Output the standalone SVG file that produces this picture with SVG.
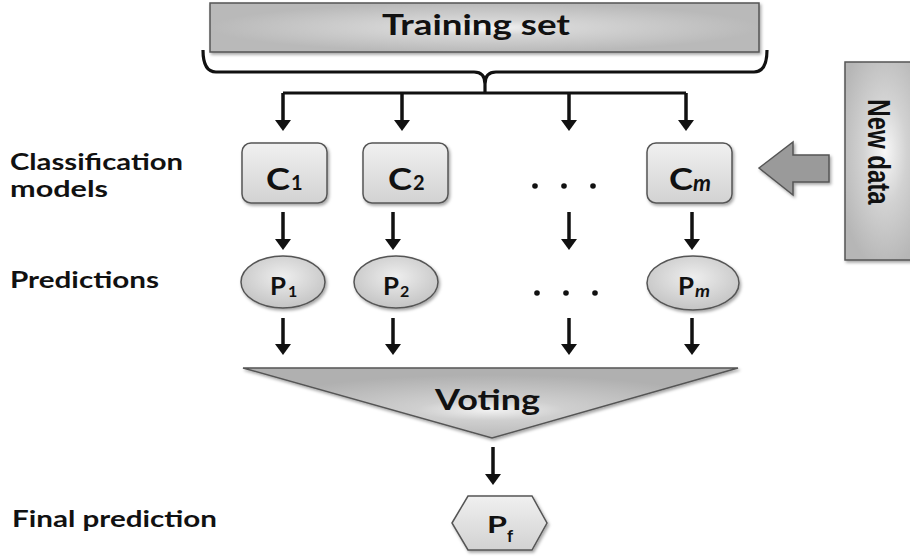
<svg xmlns="http://www.w3.org/2000/svg" width="910" height="557" viewBox="0 0 910 557">
<style>
  .lbl { font-family: Lato, "Open Sans", "Liberation Sans", sans-serif; font-weight: bold; fill: #111; }
  .conn { fill: none; stroke: #111; stroke-width: 3.2; }
  .arr { fill: none; stroke: #111; stroke-width: 3.5; marker-end: url(#ah); }
  .box { stroke: #555; stroke-width: 1.5; }
  .dot { fill: #111; }
</style>
<defs>
  <marker id="ah" markerUnits="userSpaceOnUse" markerWidth="11" markerHeight="16" viewBox="0 0 11 16" refX="3" refY="8" orient="auto">
    <path d="M0,0 L11,8 L0,16 z" fill="#111"/>
  </marker>
  <filter id="sh" x="-10%" y="-10%" width="130%" height="140%">
    <feDropShadow dx="1.5" dy="2" stdDeviation="1.5" flood-color="#000" flood-opacity="0.35"/>
  </filter>
  <radialGradient id="glowBig" cx="0.5" cy="0.5" r="0.5">
    <stop offset="0" stop-color="#f7f7f7"/>
    <stop offset="0.3" stop-color="#d6d6d6"/>
    <stop offset="1" stop-color="#b9b9b9"/>
  </radialGradient>
  <radialGradient id="glowTall" cx="0.5" cy="0.45" r="0.6">
    <stop offset="0" stop-color="#f7f7f7"/>
    <stop offset="0.45" stop-color="#d2d2d2"/>
    <stop offset="1" stop-color="#b6b6b6"/>
  </radialGradient>
  <radialGradient id="glowTri" cx="0.5" cy="0.6" r="0.5">
    <stop offset="0" stop-color="#f2f2f2"/>
    <stop offset="0.3" stop-color="#cfcfcf"/>
    <stop offset="1" stop-color="#b0b0b0"/>
  </radialGradient>
  <linearGradient id="cFill" x1="0" y1="0" x2="0" y2="1">
    <stop offset="0" stop-color="#f0f0f0"/>
    <stop offset="1" stop-color="#d2d2d2"/>
  </linearGradient>
  <radialGradient id="pFill" cx="0.5" cy="0.4" r="0.6">
    <stop offset="0" stop-color="#eeeeee"/>
    <stop offset="1" stop-color="#c4c4c4"/>
  </radialGradient>
</defs>
<rect width="910" height="557" fill="#fff"/>

<!-- connectors -->
<g id="connectors">
  <path class="conn" d="M203,50 Q203,72 216,72 L474,72 Q485,72 485,84 L485,93 M485,84 Q485,72 496,72 L754,72 Q767,72 767,50"/>
  <path class="conn" d="M283,93 L686,93"/>
  <line class="arr" x1="283" y1="93" x2="283" y2="123"/>
  <line class="arr" x1="402" y1="93" x2="402" y2="123"/>
  <line class="arr" x1="569" y1="93" x2="569" y2="123"/>
  <line class="arr" x1="686" y1="93" x2="686" y2="123"/>
  <line class="arr" x1="283" y1="212" x2="283" y2="242"/>
  <line class="arr" x1="393" y1="212" x2="393" y2="242"/>
  <line class="arr" x1="569" y1="212" x2="569" y2="242"/>
  <line class="arr" x1="692" y1="212" x2="692" y2="242"/>
  <line class="arr" x1="283" y1="318" x2="283" y2="347"/>
  <line class="arr" x1="393" y1="318" x2="393" y2="347"/>
  <line class="arr" x1="569" y1="318" x2="569" y2="347"/>
  <line class="arr" x1="692" y1="318" x2="692" y2="347"/>
  <line class="arr" x1="493" y1="447" x2="493" y2="477"/>
</g>

<!-- Training set -->
<g id="training-set">
  <rect class="box" x="210" y="3" width="549" height="49" fill="url(#glowBig)" filter="url(#sh)"/>
  <text class="lbl" x="382" y="35" font-size="28" textLength="188" lengthAdjust="spacingAndGlyphs">Training set</text>
</g>

<!-- New data -->
<g id="new-data">
  <rect class="box" x="845" y="62" width="80" height="198" fill="url(#glowTall)" filter="url(#sh)"/>
  <text transform="translate(868,152) scale(1.3,1) rotate(90)" text-anchor="middle" font-family="'Liberation Sans', Arial, sans-serif" font-weight="bold" font-size="24" fill="#111">New data</text>
</g>
<g id="new-data-arrow">
  <path d="M759,168 L793,142 L793,155 L829,155 L829,182 L793,182 L793,195 Z" fill="#9a9a9a" stroke="#555" stroke-width="1.5" filter="url(#sh)"/>
</g>

<!-- Left labels -->
<g id="label-classification">
  <text class="lbl" x="10" y="170" font-size="22" textLength="173" lengthAdjust="spacingAndGlyphs">Classification</text>
  <text class="lbl" x="10" y="197" font-size="22" textLength="98" lengthAdjust="spacingAndGlyphs">models</text>
</g>
<g id="label-predictions">
  <text class="lbl" x="10" y="288" font-size="22" textLength="149" lengthAdjust="spacingAndGlyphs">Predictions</text>
</g>
<g id="label-final">
  <text class="lbl" x="12" y="527" font-size="22" textLength="205" lengthAdjust="spacingAndGlyphs">Final prediction</text>
</g>

<!-- Classifiers -->
<g id="c1">
  <rect class="box" x="242" y="143" width="85" height="60" rx="9" fill="url(#cFill)" filter="url(#sh)"/>
  <text class="lbl" x="266" y="190" font-size="31" textLength="24" lengthAdjust="spacingAndGlyphs">C</text>
  <text class="lbl" x="291" y="190" font-size="20">1</text>
</g>
<g id="c2">
  <rect class="box" x="363" y="143" width="85" height="60" rx="9" fill="url(#cFill)" filter="url(#sh)"/>
  <text class="lbl" x="388" y="190" font-size="31" textLength="24" lengthAdjust="spacingAndGlyphs">C</text>
  <text class="lbl" x="413" y="190" font-size="20">2</text>
</g>
<g id="cm">
  <rect class="box" x="647" y="143" width="85" height="60" rx="9" fill="url(#cFill)" filter="url(#sh)"/>
  <text class="lbl" x="669" y="190" font-size="31" textLength="24" lengthAdjust="spacingAndGlyphs">C</text>
  <text class="lbl" x="693" y="191" font-size="22" font-style="italic" textLength="18" lengthAdjust="spacingAndGlyphs">m</text>
</g>
<g id="dots-c">
  <circle class="dot" cx="535" cy="186" r="2.8"/>
  <circle class="dot" cx="564" cy="186" r="2.8"/>
  <circle class="dot" cx="593" cy="186" r="2.8"/>
</g>

<!-- Predictions -->
<g id="p1">
  <ellipse class="box" cx="283" cy="282" rx="42" ry="26" fill="url(#pFill)" filter="url(#sh)"/>
  <text class="lbl" x="270" y="295" font-size="24" textLength="16" lengthAdjust="spacingAndGlyphs">P</text>
  <text class="lbl" x="288" y="297" font-size="16">1</text>
</g>
<g id="p2">
  <ellipse class="box" cx="396" cy="282" rx="42" ry="26" fill="url(#pFill)" filter="url(#sh)"/>
  <text class="lbl" x="383" y="295" font-size="24" textLength="16" lengthAdjust="spacingAndGlyphs">P</text>
  <text class="lbl" x="400" y="297" font-size="16">2</text>
</g>
<g id="pm">
  <ellipse class="box" cx="693" cy="283" rx="46" ry="27" fill="url(#pFill)" filter="url(#sh)"/>
  <text class="lbl" x="678" y="295" font-size="24" textLength="16" lengthAdjust="spacingAndGlyphs">P</text>
  <text class="lbl" x="695" y="297" font-size="17" font-style="italic" textLength="15" lengthAdjust="spacingAndGlyphs">m</text>
</g>
<g id="dots-p">
  <circle class="dot" cx="537" cy="293" r="2.8"/>
  <circle class="dot" cx="566" cy="293" r="2.8"/>
  <circle class="dot" cx="595" cy="293" r="2.8"/>
</g>

<!-- Voting -->
<g id="voting">
  <path class="box" d="M243,368 L738,368 L492,438 Z" fill="url(#glowTri)" filter="url(#sh)"/>
  <text class="lbl" x="435" y="410" font-size="28" textLength="105" lengthAdjust="spacingAndGlyphs">Voting</text>
</g>

<!-- Final prediction -->
<g id="pf">
  <path class="box" d="M452,523 L468,496 L532,496 L547,523 L532,550 L468,550 Z" fill="url(#cFill)" filter="url(#sh)"/>
  <text class="lbl" x="487" y="533" font-size="23" textLength="20" lengthAdjust="spacingAndGlyphs">P</text>
  <text class="lbl" x="507" y="542" font-size="17">f</text>
</g>
</svg>
